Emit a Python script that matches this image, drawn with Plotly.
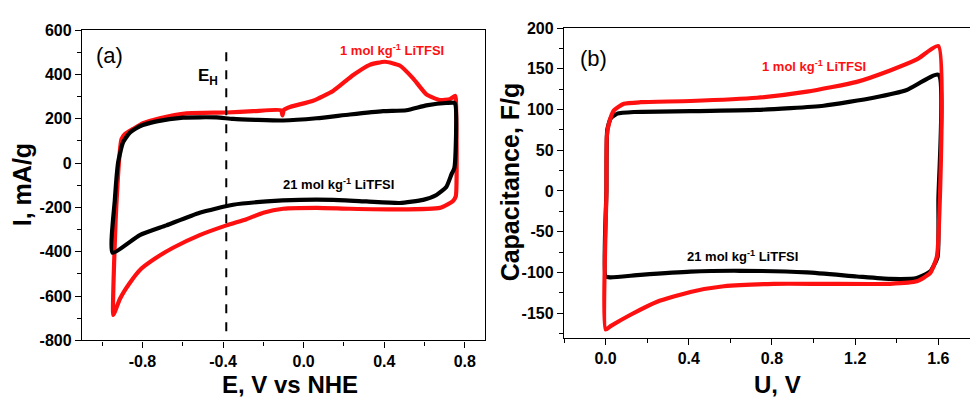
import plotly.graph_objects as go

# ---------------- data: panel (a) ----------------
red_a_E = [-0.945, -0.930, -0.904, -0.888, -0.846, -0.797, -0.714, -0.582, -0.383, -0.250, -0.112,
           -0.105, -0.098, -0.068, 0.047, 0.146, 0.246, 0.328, 0.403, 0.477, 0.543, 0.609, 0.675,
           0.725, 0.752, 0.755, 0.755, 0.740, 0.717, 0.676, 0.477, 0.229, 0.064, -0.102, -0.200,
           -0.284, -0.383, -0.516, -0.648, -0.730, -0.805, -0.863, -0.912, -0.937, -0.945]
red_a_I = [-685, -200, 108, 130, 154, 180, 202, 224, 228, 234, 238,
           215, 240, 253, 281, 325, 397, 443, 457, 440, 382, 310, 284,
           288, 303, 290, -150, -172, -185, -202, -209, -206, -202, -206, -224,
           -253, -281, -325, -382, -426, -476, -541, -613, -671, -685]

black_a_E = [-0.949, -0.937, -0.920, -0.896, -0.863, -0.813, -0.730, -0.598, -0.433, -0.350, -0.102,
             0.064, 0.229, 0.394, 0.510, 0.609, 0.708, 0.750, 0.748, 0.734, 0.708, 0.659, 0.593,
             0.477, 0.312, 0.146, -0.019, -0.184, -0.350, -0.516, -0.681, -0.813, -0.949]
black_a_I = [-404, -166, 7, 94, 137, 166, 188, 205, 206, 199, 192,
             202, 219, 234, 238, 260, 271, 270, -22, -50, -108, -144, -166,
             -180, -173, -166, -166, -173, -188, -224, -281, -325, -404]

E_H = -0.384
E_H_line_I = [500, -800]

# ---------------- data: panel (b) ----------------
red_b_U = [0.0, 0.004, 0.006, 0.016, 0.040, 0.088, 0.168, 0.408, 0.728, 0.968, 1.208, 1.368, 1.496,
           1.600, 1.600, 1.592, 1.560, 1.496, 1.368, 1.048, 0.808, 0.568, 0.408, 0.248, 0.120,
           0.024, 0.0]
red_b_C = [-170, 0, 67, 83, 99, 107, 109, 110.5, 114.5, 122, 134, 148, 161.5,
           178, -58, -81.5, -101, -111, -114, -114, -114, -117, -124, -136, -152,
           -166, -170]

black_b_U = [0.0, 0.004, 0.008, 0.024, 0.056, 0.136, 0.408, 0.728, 1.048, 1.288, 1.448, 1.600,
             1.600, 1.596, 1.560, 1.496, 1.368, 1.208, 0.968, 0.648, 0.408, 0.168, 0.024, 0.0]
black_b_C = [-105, 0, 75, 89, 95, 97, 98, 99.5, 104.7, 114.5, 124, 142.7,
             -11, -81, -99, -107, -108, -105, -100, -98, -99, -103, -106, -105]

# ---------------- tick labels ----------------
xa_ticks = [-0.8, -0.4, 0.0, 0.4, 0.8]
xa_text = ["-0.8", "-0.4", "0.0", "0.4", "0.8"]
ya_ticks = [600, 400, 200, 0, -200, -400, -600, -800]
ya_text = ["600", "400", "200", "0", "-200", "-400", "-600", "-800"]
xb_ticks = [0.0, 0.4, 0.8, 1.2, 1.6]
xb_text = ["0.0", "0.4", "0.8", "1.2", "1.6"]
yb_ticks = [200, 150, 100, 50, 0, -50, -100, -150]
yb_text = ["200", "150", "100", "50", "0", "-50", "-100", "-150"]

RED = "#ff1010"
BLACK = "#000000"
FONT = "Liberation Sans, Arial, sans-serif"
LW = 4.2

fig = go.Figure()
fig.add_trace(go.Scatter(x=red_a_E, y=red_a_I, mode="lines", line=dict(color=RED, width=LW, shape="spline", smoothing=0.5),
                         xaxis="x", yaxis="y", showlegend=False))
fig.add_trace(go.Scatter(x=black_a_E, y=black_a_I, mode="lines", line=dict(color=BLACK, width=LW, shape="spline", smoothing=0.5),
                         xaxis="x", yaxis="y", showlegend=False))
fig.add_trace(go.Scatter(x=[E_H, E_H], y=E_H_line_I, mode="lines", line=dict(color=BLACK, width=2, dash="dash"),
                         xaxis="x", yaxis="y", showlegend=False))
fig.add_trace(go.Scatter(x=black_b_U, y=black_b_C, mode="lines", line=dict(color=BLACK, width=LW, shape="spline", smoothing=0.5),
                         xaxis="x2", yaxis="y2", showlegend=False))
fig.add_trace(go.Scatter(x=red_b_U, y=red_b_C, mode="lines", line=dict(color=RED, width=LW, shape="spline", smoothing=0.5),
                         xaxis="x2", yaxis="y2", showlegend=False))

W, H = 971, 405
def px(x): return x / W
def py(y): return 1 - y / H

axis_common = dict(showgrid=False, zeroline=False, showline=True, linecolor="black", linewidth=1.3,
                   ticks="outside", ticklen=6, tickwidth=1.3, tickcolor="black",
                   tickfont=dict(family=FONT, size=16, color="black", weight="bold"))

fig.update_layout(
    width=W, height=H, autosize=False,
    margin=dict(l=0, r=0, t=0, b=0),
    paper_bgcolor="white", plot_bgcolor="white",
    xaxis=dict(domain=[px(82), px(485)], range=[-1.1, 0.9], anchor="y", mirror=True,
               tickmode="array", tickvals=xa_ticks, ticktext=xa_text,
               minor=dict(dtick=0.2, tick0=-1.0, ticks="outside", ticklen=4, tickcolor="black"),
               **axis_common),
    yaxis=dict(domain=[py(347), py(23)], range=[-800, 600], anchor="x", mirror=True,
               tickmode="array", tickvals=ya_ticks, ticktext=ya_text,
               minor=dict(dtick=100, tick0=0, ticks="outside", ticklen=4, tickcolor="black"),
               **axis_common),
    xaxis2=dict(domain=[px(564), px(970)], range=[-0.2, 1.752], anchor="y2", mirror=True,
                tickmode="array", tickvals=xb_ticks, ticktext=xb_text,
                minor=dict(dtick=0.2, tick0=0, ticks="outside", ticklen=4, tickcolor="black"),
                **axis_common),
    yaxis2=dict(domain=[py(344), py(21)], range=[-180, 200], anchor="x2", mirror=False,
                tickmode="array", tickvals=yb_ticks, ticktext=yb_text,
                minor=dict(dtick=25, tick0=0, ticks="outside", ticklen=4, tickcolor="black"),
                **axis_common),
)

def ann(x, y, text, size, color="black", bold=True, angle=0):
    fig.add_annotation(xref="paper", yref="paper", x=px(x), y=py(y), text=text, showarrow=False,
                       xanchor="center", yanchor="middle", textangle=angle,
                       font=dict(family=FONT, size=size, color=color, weight="bold" if bold else "normal"))

# axis titles
ann(22, 185, "I, mA/g", 25, angle=-90)
ann(290, 393, "E, V vs NHE", 24)
ann(510, 182, "Capacitance, F/g", 25, angle=-90)
ann(777, 393, "U, V", 24)
# panel labels
ann(109, 50, "(a)", 22, bold=False)
ann(593, 53, "(b)", 22, bold=False)
# series labels
ann(392, 44, "1 mol kg<sup>-1</sup> LiTFSI", 13, color=RED)
ann(338, 184, "21 mol kg<sup>-1</sup> LiTFSI", 13)
ann(814, 61, "1 mol kg<sup>-1</sup> LiTFSI", 13, color=RED)
ann(742, 259, "21 mol kg<sup>-1</sup> LiTFSI", 13)
ann(208, 72, "E<sub>H</sub>", 17)

fig.write_html("out.html", config={"displayModeBar": False},
               post_script="document.body.style.margin='0px';document.body.style.overflow='hidden';")
